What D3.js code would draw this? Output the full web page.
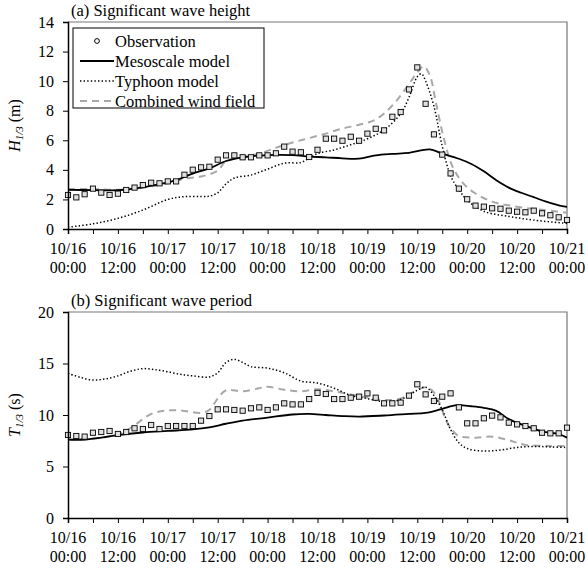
<!DOCTYPE html>
<html>
<head>
<meta charset="utf-8">
<script src="https://cdn.jsdelivr.net/npm/d3@7/dist/d3.min.js"></script>
<style>
  body { margin: 0; background: #fff; }
  text { font-family: "Liberation Serif", "Times New Roman", serif; fill: #000; }
</style>
</head>
<body>
<svg id="chart" width="588" height="572"></svg>
<script>
// hours since 10/16 00:00
const tickHours = [0, 12, 24, 36, 48, 60, 72, 84, 96, 108, 120];
const tickDates = ["10/16", "10/16", "10/17", "10/17", "10/18", "10/18", "10/19", "10/19", "10/20", "10/20", "10/21"];
const tickTimes = ["00:00", "12:00", "00:00", "12:00", "00:00", "12:00", "00:00", "12:00", "00:00", "12:00", "00:00"];

// observations every 2 hours
const obsHours = d3.range(0, 121, 2);
const obsH = [2.30, 2.14, 2.35, 2.73, 2.46, 2.30, 2.39, 2.64, 2.80, 2.97, 3.13, 3.09, 3.22, 3.22, 3.67, 4.01,
  4.17, 4.21, 4.69, 4.98, 4.98, 4.85, 4.85, 4.98, 4.98, 5.12, 5.57, 5.23, 5.19, 4.87, 5.36, 6.11, 6.11, 5.97,
  6.24, 5.97, 6.45, 6.78, 6.67, 7.59, 7.91, 9.44, 10.93, 8.47, 6.40, 5.03, 3.76, 2.73, 2.01, 1.58, 1.51, 1.40,
  1.37, 1.24, 1.17, 1.13, 1.24, 1.06, 0.93, 0.79, 0.61];
const obsT = [8.06, 7.96, 7.90, 8.28, 8.35, 8.45, 8.16, 8.35, 8.71, 8.64, 9.03, 8.64, 8.93, 8.93, 8.93, 8.93,
  9.45, 9.90, 10.55, 10.55, 10.49, 10.42, 10.65, 10.74, 10.49, 10.74, 11.13, 11.03, 11.03, 11.55, 12.15, 12.04,
  11.55, 11.55, 11.68, 11.78, 12.10, 11.68, 11.13, 11.13, 11.20, 11.88, 12.98, 12.00, 11.36, 11.78, 12.10,
  10.74, 9.19, 9.19, 9.68, 9.94, 9.77, 9.26, 9.09, 8.93, 8.71, 8.28, 8.22, 8.22, 8.77];

// (a) wave height models
const mesoHHours = [0, 6, 12, 18, 24, 26, 30, 34, 38, 42, 48, 54, 58, 62, 66, 70, 74, 78, 82, 87, 90, 94, 97, 100, 103, 106, 109, 112, 115, 118, 120];
const mesoH = [2.65, 2.63, 2.62, 2.82, 3.15, 3.3, 3.75, 4.1, 4.6, 4.85, 5.0, 5.0, 4.9, 4.85, 4.78, 4.76, 4.98, 5.08, 5.15, 5.38, 5.1, 4.75, 4.4, 3.9, 3.3, 2.8, 2.45, 2.15, 1.85, 1.6, 1.5];
const typhHHours = [0, 6, 12, 18, 24, 28, 32, 34, 36, 38, 40, 44, 48, 52, 56, 58, 60, 64, 68, 72, 76, 80, 82, 84, 85, 86, 88, 90, 92, 94, 96, 100, 106, 112, 120];
const typhH = [0.12, 0.35, 0.72, 1.28, 2.0, 2.19, 2.2, 2.22, 2.45, 3.05, 3.45, 3.65, 4.05, 4.45, 4.5, 4.8, 5.1, 5.35, 5.7, 6.1, 6.7, 7.8, 8.9, 10.3, 10.5, 10.0, 8.3, 5.6, 3.6, 2.65, 1.95, 1.2, 0.85, 0.6, 0.38];
const combHHours = [0, 6, 12, 18, 24, 28, 32, 36, 38, 42, 46, 50, 54, 58, 62, 66, 70, 74, 78, 82, 84, 85.5, 87, 88.5, 90.5, 92.5, 95, 98, 102, 106, 110, 114, 120];
const combH = [2.7, 2.7, 2.65, 2.8, 3.1, 3.4, 3.55, 3.95, 4.6, 4.9, 5.1, 5.5, 5.85, 6.15, 6.45, 6.8, 7.05, 7.4, 8.35, 9.8, 10.6, 11.0, 10.4, 8.5, 6.0, 4.2, 3.1, 2.4, 1.85, 1.6, 1.42, 1.3, 1.1];

// (b) wave period models
const mesoTHours = [0, 4, 8, 12, 18, 24, 30, 34, 38, 42, 48, 54, 58, 62, 66, 70, 76, 82, 86, 90, 93.5, 97, 100, 103, 106, 110, 114, 118, 120];
const mesoT = [7.6, 7.62, 7.8, 8.05, 8.3, 8.45, 8.6, 8.8, 9.15, 9.45, 9.75, 10.05, 10.1, 10.0, 9.9, 9.85, 9.95, 10.1, 10.2, 10.6, 10.95, 10.85, 10.7, 10.4, 9.6, 8.95, 8.4, 8.15, 7.8];
const typhTHours = [0, 3, 6, 9, 12, 15, 18, 21, 24, 27, 30, 34, 36, 38, 40, 42, 44, 48, 52, 56, 60, 64, 68, 72, 76, 80, 84, 86, 88, 90, 92, 94, 96, 100, 104, 108, 112, 116, 120];
const typhT = [14.05, 13.65, 13.4, 13.5, 13.8, 14.25, 14.5, 14.4, 14.2, 13.95, 13.8, 13.7, 14.1, 15.1, 15.4, 15.1, 14.7, 14.55, 14.1, 13.3, 13.1, 12.6, 11.9, 11.6, 11.3, 11.5, 12.4, 12.7, 11.9, 10.5, 8.6, 7.3, 6.75, 6.5, 6.6, 6.85, 6.95, 6.9, 6.85];
const combTHours = [0, 6, 12, 14, 16, 20, 24, 28, 32, 34, 36, 38, 42, 46, 48, 52, 56, 60, 64, 68, 72, 76, 80, 82, 86, 88, 89.5, 91, 92.5, 94, 98, 102, 106, 110, 116, 120];
const combT = [7.6, 7.7, 8.1, 8.5, 9.0, 10.1, 10.45, 10.4, 10.2, 10.5, 11.6, 12.4, 12.3, 12.6, 12.75, 12.45, 12.3, 12.5, 12.3, 12.0, 11.7, 11.45, 11.6, 12.0, 12.7, 12.2, 11.0, 9.4, 8.5, 7.95, 7.8, 7.9, 7.55, 7.1, 7.0, 7.0];

const legendNames = ["Observation", "Mesoscale model", "Typhoon model", "Combined wind field"];

const svg = d3.select("#chart");
const left = 68, right = 567;
const x = d3.scaleLinear().domain([0, 120]).range([left, right]);

const styles = {
  meso: { stroke: "#000", width: 1.8, dash: null },
  typh: { stroke: "#000", width: 1.5, dash: "1.4,2.2" },
  comb: { stroke: "#a8a8a8", width: 2, dash: "7,5" }
};

function zip(hs, vs) { return hs.map((h, i) => [h, vs[i]]); }

function drawPanel(cfg) {
  const y = d3.scaleLinear().domain(cfg.domain).range([cfg.bottom, cfg.top]);
  const g = svg.append("g");

  // frame (top/right in grey)
  g.append("path")
    .attr("d", `M${left},${cfg.top}H${right}V${cfg.bottom}`)
    .attr("fill", "none").attr("stroke", "#777").attr("stroke-width", 1.2);

  const line = d3.line().x(d => x(d[0])).y(d => y(d[1])).curve(d3.curveCatmullRom.alpha(0.5));
  cfg.series.forEach(s => {
    const st = styles[s.style];
    g.append("path")
      .datum(zip(s.hours, s.values))
      .attr("d", line)
      .attr("fill", "none")
      .attr("stroke", st.stroke)
      .attr("stroke-width", st.width)
      .attr("stroke-dasharray", st.dash)
      .attr("stroke-linecap", "butt");
  });

  g.selectAll("rect.obs").data(zip(obsHours, cfg.obs)).enter()
    .append("rect").attr("class", "obs")
    .attr("x", d => x(d[0]) - 2.6).attr("y", d => y(d[1]) - 2.6)
    .attr("width", 5.2).attr("height", 5.2)
    .attr("fill", "#e0e0e0").attr("stroke", "#000").attr("stroke-width", 0.9);

  // y axis
  const ya = g.append("g").attr("transform", `translate(${left},0)`)
    .call(d3.axisLeft(y).tickValues(cfg.yticks).tickSize(5).tickPadding(9).tickFormat(d3.format("d")));
  ya.select(".domain").attr("stroke", "#000").attr("stroke-width", 1.5);
  ya.selectAll(".tick line").attr("stroke", "#000");
  ya.selectAll("text").style("font-size", "16px").style("font-family", "Liberation Serif");

  // x axis
  const xa = g.append("g").attr("transform", `translate(0,${cfg.bottom})`)
    .call(d3.axisBottom(x).tickValues(d3.range(0, 121, 6)).tickSize(5).tickFormat(""));
  xa.select(".domain").attr("stroke", "#000").attr("stroke-width", 1.5);
  xa.selectAll(".tick line").attr("stroke", "#000");
  tickHours.forEach((h, i) => {
    const t = g.append("text").attr("text-anchor", "middle").style("font-size", "16px");
    t.append("tspan").attr("x", x(h)).attr("y", cfg.bottom + 25).text(tickDates[i]);
    t.append("tspan").attr("x", x(h)).attr("y", cfg.bottom + 44).text(tickTimes[i]);
  });

  // panel title
  g.append("text").attr("x", 71).attr("y", cfg.top - 6).style("font-size", "16.5px").text(cfg.title);

  // y label
  const cy = (cfg.top + cfg.bottom) / 2;
  const yl = g.append("text").attr("transform", `translate(20,${cy}) rotate(-90)`)
    .attr("text-anchor", "middle").style("font-size", "16px");
  yl.append("tspan").style("font-style", "italic").text(cfg.sym);
  yl.append("tspan").style("font-style", "italic").style("font-size", "11px").attr("dy", 3).text("1/3");
  yl.append("tspan").attr("dy", -3).text(" " + cfg.unit);
  return y;
}

drawPanel({
  top: 22, bottom: 229, domain: [0, 14], yticks: d3.range(0, 15, 2),
  title: "(a) Significant wave height", sym: "H", unit: "(m)", obs: obsH,
  series: [
    { hours: combHHours, values: combH, style: "comb" },
    { hours: typhHHours, values: typhH, style: "typh" },
    { hours: mesoHHours, values: mesoH, style: "meso" }
  ]
});

drawPanel({
  top: 312, bottom: 518, domain: [0, 20], yticks: d3.range(0, 21, 5),
  title: "(b) Significant wave period", sym: "T", unit: "(s)", obs: obsT,
  series: [
    { hours: combTHours, values: combT, style: "comb" },
    { hours: typhTHours, values: typhT, style: "typh" },
    { hours: mesoTHours, values: mesoT, style: "meso" }
  ]
});

// legend
const lg = svg.append("g");
lg.append("rect").attr("x", 73).attr("y", 28).attr("width", 191).attr("height", 80)
  .attr("fill", "#fff").attr("stroke", "#000").attr("stroke-width", 1);
const legendKeys = ["obs", "meso", "typh", "comb"];
legendNames.forEach((name, i) => {
  const cy = 41 + i * 20;
  if (legendKeys[i] === "obs") {
    lg.append("circle").attr("cx", 97).attr("cy", cy).attr("r", 2.4)
      .attr("fill", "#fff").attr("stroke", "#000").attr("stroke-width", 1);
  } else {
    const st = styles[legendKeys[i]];
    lg.append("line").attr("x1", 80).attr("x2", 114).attr("y1", cy).attr("y2", cy)
      .attr("stroke", st.stroke).attr("stroke-width", st.width).attr("stroke-dasharray", st.dash);
  }
  lg.append("text").attr("x", 115).attr("y", cy + 5.5).style("font-size", "16.5px").text(name);
});
</script>
</body>
</html>
